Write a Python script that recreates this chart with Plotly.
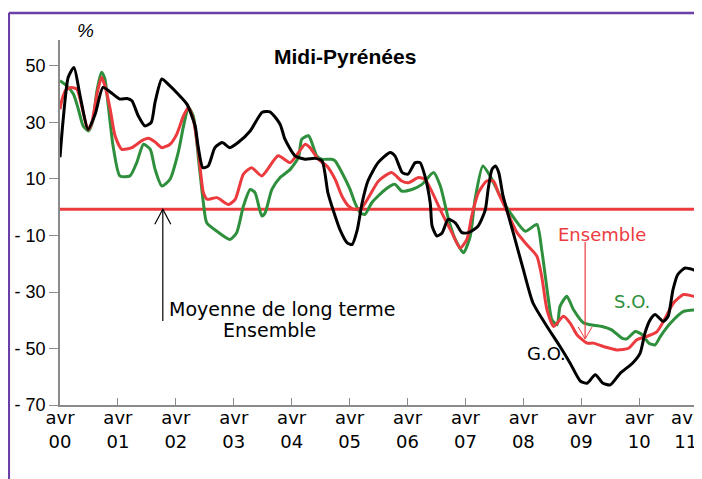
import plotly.graph_objects as go

# Soldes d'opinion, Midi-Pyrénées - mois écoulés depuis avril 2000
go_months = [0.0, 0.6, 1.7, 2.9, 4.1, 5.8, 7.3, 8.9, 10.4, 12.4, 13.9, 14.9, 16.2, 17.6, 18.9, 19.7,
             21.1, 22.4, 24.5, 26.3, 28.0, 28.6, 29.6, 30.7, 32.1, 33.6, 35.2, 36.9, 39.4, 41.9, 43.5,
             45.6, 46.6, 48.7, 50.8, 52.8, 54.3, 55.5, 57.0, 58.0, 59.5, 60.5, 61.6, 62.6, 63.8, 65.9,
             68.4, 69.4, 70.9, 72.1, 73.6, 74.6, 75.6, 76.7, 77.1, 78.1, 79.2, 80.4, 81.9, 83.3, 84.6,
             86.6, 88.1, 88.7, 89.5, 90.2, 90.9, 91.8, 93.9, 96.0, 98.0, 100.9, 103.6, 105.7, 107.8,
             109.2, 110.9, 112.5, 114.0, 116.1, 118.6, 120.2, 121.2, 122.3, 123.3, 125.0, 126.0, 127.0,
             128.0, 129.5, 131.2, 132.2]
go_values = [17.7, 30, 46, 49.5, 40, 27.6, 33, 42.4, 40.8, 38.3, 38.5, 37.7, 32.4, 28.8, 30, 37.2,
             45.4, 43.6, 40, 36.5, 28.8, 21.7, 14.0, 14.6, 21.1, 22.9, 21.1, 22.9, 27.0, 33.6, 33.8,
             29.4, 24.1, 18.2, 17.0, 17.3, 16.4, 5.2, -3.1, -7.9, -12.6, -13.2, -7.9, 1.6, 9.3, 15.8,
             19.4, 18.2, 12.3, 11.7, 15.8, 15.8, 11.1, 1.6, -6.7, -10.2, -9.0, -4.3, -5.5, -9.0, -9.0,
             -6.7, -1.0, 6.3, 13.4, 14.6, 12.3, 4.0, -9.0, -22.1, -33.9, -42.2, -49.3, -55.2, -61.5,
             -62.3, -59.3, -62.3, -62.9, -58.7, -55.2, -51.6, -44.5, -39.8, -38.0, -40.4, -38.6, -29.2,
             -23.8, -21.5, -22.1, -22.7]

ens_months = [0.0, 0.4, 1.2, 2.4, 3.5, 4.5, 5.5, 5.9, 6.6, 7.6, 8.6, 9.3, 10.4, 11.4, 12.8, 14.9,
              16.9, 18.3, 19.7, 21.1, 22.8, 24.2, 25.6, 26.6, 27.6, 28.7, 29.7, 30.5, 32.5, 34.9, 36.3,
              38.0, 39.7, 41.8, 45.2, 47.7, 50.8, 51.8, 53.5, 55.3, 57.0, 58.4, 59.8, 61.1, 62.5, 63.9,
              66.0, 68.7, 70.8, 72.2, 74.3, 75.6, 77.0, 79.1, 81.2, 82.9, 84.3, 85.3, 86.7, 88.4, 89.8,
              90.8, 92.6, 94.7, 96.7, 98.8, 99.8, 100.9, 102.3, 104.3, 105.7, 107.1, 109.2, 110.5,
              112.6, 115.4, 117.8, 119.5, 121.6, 123.7, 125.4, 127.1, 129.2, 131.3, 132.3]
ens_values = [34.7, 38, 41.5, 42.4, 41.8, 35.9, 28.8, 27.5, 30, 39.5, 46, 43, 34.7, 25.3, 20.5, 21.1,
              23.5, 24.4, 23.1, 21.1, 22.3, 25.9, 32.4, 35.3, 31.2, 19.4, 5.2, 2.8, 3.4, 1.0, 2.8,
              11.7, 14.0, 11.1, 18.2, 15.8, 22.3, 21.1, 17.0, 14.6, 9.9, 4.0, 0.4, -0.8, -0.2, 3.4,
              9.3, 12.3, 9.3, 8.7, 10.5, 9.9, 5.7, -2.0, -9.0, -14.4, -11.4, -3.1, 5.2, 9.3, 9.3,
              5.2, -1.4, -9.0, -13.2, -17.3, -24.4, -36.3, -42.2, -38.6, -41.0, -45.1, -48.1, -48.1,
              -49.3, -50.5, -49.9, -46.9, -45.7, -44.0, -39.2, -33.9, -30.9, -31.5, -31.5]

so_months = [0.0, 1.4, 2.8, 3.8, 4.8, 5.9, 6.9, 7.6, 8.6, 9.3, 10.0, 11.0, 12.4, 14.5, 15.9, 17.3,
             18.7, 19.7, 21.1, 22.8, 24.5, 25.6, 26.6, 27.6, 28.7, 29.7, 30.4, 32.5, 35.2, 36.6, 38.0,
             39.4, 40.4, 41.8, 42.5, 43.9, 45.6, 47.7, 49.4, 50.1, 51.5, 53.2, 54.2, 56.3, 57.0, 58.4,
             60.1, 61.1, 62.2, 63.2, 64.6, 67.4, 69.4, 70.8, 72.9, 75.0, 77.4, 78.8, 80.5, 81.9, 83.6,
             85.0, 86.0, 87.6, 89.1, 91.2, 93.3, 96.4, 98.8, 99.8, 101.2, 101.9, 103.0, 103.6, 105.0,
             106.4, 108.5, 109.9, 112.3, 114.3, 116.4, 117.4, 119.2, 120.6, 122.0, 123.3, 124.4, 126.5,
             129.2, 132.3]
so_values = [44.8, 43.0, 40, 34.7, 28.8, 27.0, 31.2, 40.7, 47.8, 45.4, 35.9, 21.7, 11.1, 11.1, 15.8, 22.3,
             20.5, 13.4, 7.5, 9.9, 19.4, 28.8, 35.3, 32.4, 17.0, 1.6, -5.5, -8.5, -11.4, -9.0, 0.4,
             6.3, 5.2, -3.1, -2.0, 6.3, 10.5, 13.4, 17.6, 24.1, 25.3, 18.2, 17.0, 17.0, 16.4, 12.3,
             6.3, 1.6, -2.0, -2.5, 1.6, 6.3, 8.1, 5.7, 6.3, 8.1, 12.3, 7.5, -4.3, -11.4, -16.1,
             -10.2, 2.8, 14.6, 11.1, 4.0, -2.0, -8.5, -6.1, -15.0, -32.7, -39.8, -41.6, -35.1, -31.5,
             -36.3, -41.0, -41.6, -42.2, -43.4, -46.3, -46.6, -44.0, -45.1, -48.1, -48.7, -45.7, -41.0,
             -36.9, -36.3]

moyenne_long_terme = -0.7

tick_months = [0, 12, 24, 36, 48, 60, 72, 84, 96, 108, 120, 132]
tick_labels = ["avr<br>00", "avr<br>01", "avr<br>02", "avr<br>03", "avr<br>04", "avr<br>05",
               "avr<br>06", "avr<br>07", "avr<br>08", "avr<br>09", "avr<br>10",
               "avr\u00a0\u00a0\u00a0\u00a0<br>11\u00a0\u00a0\u00a0\u00a0"]
y_ticks = [50, 30, 10, -10, -30, -50, -70]
y_labels = ["50", "30", "10", "- 10", "- 30", "- 50", "- 70"]

ROUGE = "#EC3B3F"
VERT = "#2E8F3C"
NOIR = "#000000"
VIOLET = "#6A3FA6"

fig = go.Figure()

# moyenne de long terme (ensemble)
fig.add_trace(go.Scatter(x=[ens_months[0], ens_months[-1]], y=[moyenne_long_terme, moyenne_long_terme],
                         mode="lines", line=dict(color=ROUGE, width=3), hoverinfo="skip"))

fig.add_trace(go.Scatter(x=so_months, y=so_values, mode="lines", name="S.O.",
                         line=dict(color=VERT, width=3, shape="spline", smoothing=0.6)))
fig.add_trace(go.Scatter(x=ens_months, y=ens_values, mode="lines", name="Ensemble",
                         line=dict(color=ROUGE, width=3, shape="spline", smoothing=0.6)))
fig.add_trace(go.Scatter(x=go_months, y=go_values, mode="lines", name="G.O.",
                         line=dict(color=NOIR, width=3, shape="spline", smoothing=0.6)))

fig.update_xaxes(
    range=[0, 132.6], tickvals=tick_months, ticktext=tick_labels,
    showline=True, linecolor="#8a8a8a", linewidth=1.5,
    ticks="inside", ticklen=7, tickcolor="#8a8a8a", tickwidth=1.2,
    showgrid=False, zeroline=False, ticklabeloverflow="allow", ticklabelstandoff=-4,
    automargin=False,
    tickfont=dict(family="DejaVu Sans", size=18, color="black"),
)
fig.update_yaxes(
    range=[-70, 59.2], tickvals=y_ticks, ticktext=y_labels,
    showline=True, linecolor="#8a8a8a", linewidth=1.5,
    ticks="outside", ticklen=9, tickcolor="#8a8a8a", tickwidth=1.2,
    showgrid=False, zeroline=False, automargin=False,
    tickfont=dict(family="Liberation Sans", size=18, color="black"),
)

annots = [
    dict(x=59.1, y=53.5, text="<b>Midi-Pyrénées</b>", font=dict(family="Liberation Sans", size=21)),
    dict(x=22.2, y=-36.0, text="Moyenne de long terme", xanchor="left",
         font=dict(family="DejaVu Sans", size=19)),
    dict(x=43.5, y=-43.5, text="Ensemble", font=dict(family="DejaVu Sans", size=19)),
    dict(x=112.3, y=-9.5, text="Ensemble", font=dict(family="DejaVu Sans", size=18, color=ROUGE)),
    dict(x=118.5, y=-33.2, text="S.O.", font=dict(family="DejaVu Sans", size=18, color=VERT)),
    dict(x=100.7, y=-51.9, text="G.O.", font=dict(family="DejaVu Sans", size=18, color=NOIR)),
]
for a in annots:
    a.setdefault("xanchor", "center")
    a["font"].setdefault("color", "black")
    fig.add_annotation(xref="x", yref="y", showarrow=False, yanchor="middle", **a)

fig.add_annotation(xref="paper", yref="paper", x=0.0406, y=1.025, text="<i>%</i>", showarrow=False,
                   xanchor="center", yanchor="middle",
                   font=dict(family="Liberation Sans", size=19, color="black"))

# titre coupé en haut de la page
fig.add_annotation(xref="paper", yref="paper", x=0.468, y=1.088, xanchor="center", yanchor="bottom",
                   showarrow=False, text="Soldes d'opinion, en %, CVS",
                   font=dict(family="Liberation Sans", size=16, color="#555555"))

# flèche noire vers la moyenne
fig.add_shape(type="line", xref="x", yref="y", x0=21.3, x1=21.3, y0=-40.3, y1=moyenne_long_terme,
              line=dict(color="black", width=1.2))
fig.add_shape(type="path", xref="x", yref="y", xsizemode="pixel", ysizemode="pixel",
              xanchor=21.3, yanchor=moyenne_long_terme, path="M-8,-15 L0,0 L8,-15",
              line=dict(color="black", width=1.2))

# flèche rouge "Ensemble"
fig.add_shape(type="line", xref="x", yref="y", x0=108.8, x1=108.8, y0=-12.3, y1=-46.6,
              line=dict(color=ROUGE, width=1.2))
fig.add_shape(type="path", xref="x", yref="y", xsizemode="pixel", ysizemode="pixel",
              xanchor=108.8, yanchor=-46.6, path="M-7,12 L0,0 L7,12",
              line=dict(color=ROUGE, width=1))

# cadre violet
fig.add_shape(type="line", xref="paper", yref="paper", x0=-0.08, x1=-0.08, y0=-0.25, y1=1.074,
              line=dict(color=VIOLET, width=2.5))
fig.add_shape(type="line", xref="paper", yref="paper", x0=-0.08, x1=1.03, y0=1.074, y1=1.074,
              line=dict(color=VIOLET, width=2.5))

# la page html ajoute 8 px de marge : marges décalées en conséquence
fig.update_layout(
    width=702, height=479,
    margin=dict(l=52, r=10, t=32, b=82),
    plot_bgcolor="white", paper_bgcolor="white",
    showlegend=False,
)

fig.write_html("out.html")
